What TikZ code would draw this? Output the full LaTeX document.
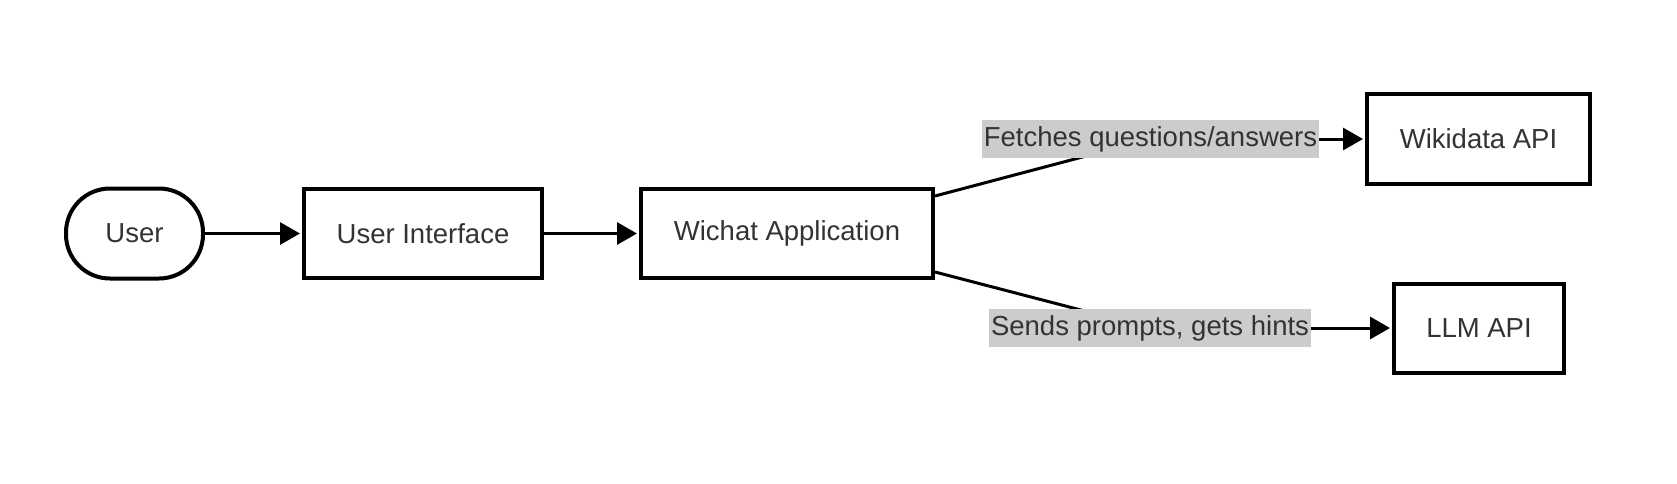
\documentclass[tikz,border=0pt]{standalone}
\usepackage{fontspec}
\setmainfont{Liberation Sans}
\usetikzlibrary{arrows.meta}
\definecolor{txt}{HTML}{333333}
\definecolor{lblbg}{HTML}{CCCCCC}
\tikzset{
  box/.style={draw=black, line width=4pt, fill=white, text=txt, minimum height=89pt, inner sep=0pt,
              font=\fontsize{27.5pt}{33pt}\selectfont},
  edge/.style={draw=black, line width=3pt, shorten >=2pt, -{Triangle[length=20pt,width=22pt]}},
  plain/.style={draw=black, line width=3pt},
  lbl/.style={fill=lblbg, text=txt, inner xsep=2pt, inner ysep=0pt, minimum height=38pt,
              font=\fontsize{27.5pt}{33pt}\selectfont}
}
\begin{document}
\begin{tikzpicture}[x=1pt, y=-1pt]
\useasboundingbox (0,0) rectangle (1677,483);
\node[box, rounded corners=44pt, minimum width=137pt, minimum height=90pt] (user) at (134.5,233.5) {User};
\node[box, minimum width=238pt] (ui) at (423,233.5) {User Interface};
\node[box, minimum width=292pt] (wa) at (787,233.5) {Wichat Application};
\node[box, minimum width=223pt, minimum height=90pt] (wd) at (1478.5,139) {Wikidata API};
\node[box, minimum width=170pt] (llm) at (1479,328) {LLM API};
\coordinate (c1) at (1150.5,139);
\coordinate (c2) at (1150,328);
\draw[edge] (user) -- (ui);
\draw[edge] (ui) -- (wa);
\draw[plain] ([yshift=37.5pt]wa.east) -- (c1);
\draw[edge] (c1) -- (wd.west);
\draw[plain] ([yshift=-38.5pt]wa.east) -- (c2);
\draw[edge] (c2) -- (llm.west);
\node[lbl] (l1) at (c1) {Fetches questions/answers};
\node[lbl] (l2) at (c2) {Sends prompts, gets hints};
\end{tikzpicture}
\end{document}
